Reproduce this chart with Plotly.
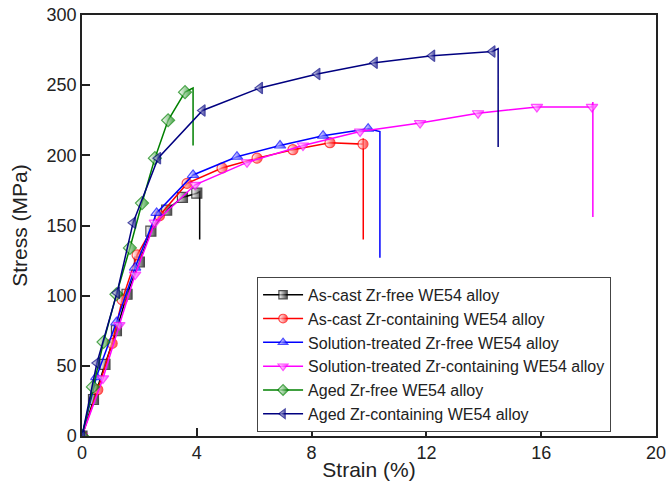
"""Stress-strain curves of WE54 alloys."""

import plotly.graph_objects as go

# marker points (strain %, stress MPa), then the end of the curve and the drop after fracture
names = [
    "As-cast Zr-free WE54 alloy",
    "As-cast Zr-containing WE54 alloy",
    "Solution-treated Zr-free WE54 alloy",
    "Solution-treated Zr-containing WE54 alloy",
    "Aged Zr-free WE54 alloy",
    "Aged Zr-containing WE54 alloy",
]
colors = ["#000000", "#ff0000", "#0000ff", "#ff00ff", "#008000", "#000080"]
symbols = ["square", "circle", "triangle-up", "triangle-down", "diamond", "triangle-left"]

ascast_free_strain = [0, 0.4, 0.8, 1.2, 1.57, 2.0, 2.4, 2.95, 3.5, 4.0, 4.1, 4.1]
ascast_free_stress = [0, 26, 51, 75, 101, 124, 146, 161, 170, 173, 174, 140]

ascast_zr_strain = [0, 0.55, 1.05, 1.4, 1.92, 2.7, 3.66, 4.88, 6.1, 7.35, 8.64, 9.79, 9.8, 9.8]
ascast_zr_stress = [0, 33, 66, 97, 129, 157, 180, 191, 198, 204, 209, 208, 212, 140]

sol_free_strain = [0, 0.5, 1.2, 1.85, 2.6, 3.87, 5.4, 6.9, 8.4, 9.97, 10.38, 10.38]
sol_free_stress = [0, 42, 81, 120, 159, 186, 199, 207, 214, 219, 217, 127]

sol_zr_strain = [0, 0.73, 1.3, 1.85, 2.54, 3.94, 5.75, 7.7, 9.69, 11.78, 13.8, 15.85, 17.77, 17.8, 17.8]
sol_zr_stress = [0, 41, 79, 115, 152, 179, 195, 207, 217, 223, 230, 234.5, 234.5, 238, 156]

aged_free_strain = [0, 0.38, 0.75, 1.2, 1.67, 2.09, 2.54, 3.0, 3.59, 3.87, 3.87]
aged_free_stress = [0, 35, 67, 101, 134, 166, 198, 225, 245, 248, 207]

aged_zr_strain = [0, 0.52, 1.22, 1.78, 2.65, 4.2, 6.2, 8.2, 10.2, 12.2, 14.3, 14.5, 14.5]
aged_zr_stress = [0, 52, 102, 152, 198, 232, 248, 258, 266, 271, 274, 276, 206]

strains = [ascast_free_strain, ascast_zr_strain, sol_free_strain,
           sol_zr_strain, aged_free_strain, aged_zr_strain]
stresses = [ascast_free_stress, ascast_zr_stress, sol_free_stress,
            sol_zr_stress, aged_free_stress, aged_zr_stress]

fig = go.Figure()

for name, color, symbol, x, y in zip(names, colors, symbols, strains, stresses):
    # no markers on the last two points (end of curve and fracture drop)
    sizes = [10] * (len(x) - 2) + [0, 0]
    fig.add_trace(go.Scatter(
        x=x, y=y, name=name, mode="lines+markers",
        line=dict(color=color, width=1.5),
        marker=dict(symbol=symbol, size=sizes, color="white",
                    gradient=dict(type="horizontal", color=color),
                    line=dict(color=color, width=1.2)),
    ))

font = "Liberation Sans, Arial, sans-serif"

fig.update_layout(
    width=666, height=491,
    margin=dict(l=82, r=10, t=15, b=55),
    paper_bgcolor="white", plot_bgcolor="white",
    font=dict(family=font, size=18, color="#222"),
    showlegend=True,
    legend=dict(
        x=0.305, y=0.378, xanchor="left", yanchor="top",
        bordercolor="#444", borderwidth=1, bgcolor="white",
        font=dict(size=16, color="#222"), itemwidth=40,
        tracegroupgap=0,
    ),
)

fig.update_xaxes(
    range=[0, 20], dtick=4, showgrid=False, zeroline=False, automargin=False,
    showline=True, linecolor="#222", linewidth=1.5, mirror=True,
    ticks="inside", ticklen=8, tickcolor="#222", tickwidth=1.5,
    ticklabeloverflow="allow",
    title=dict(text="Strain (%)", font=dict(size=21), standoff=0),
)
fig.update_yaxes(
    range=[0, 300], dtick=50, showgrid=False, zeroline=False, automargin=False,
    showline=True, linecolor="#222", linewidth=1.5, mirror=True,
    ticks="inside", ticklen=8, tickcolor="#222", tickwidth=1.5,
    ticklabeloverflow="allow",
    title=dict(text="Stress (MPa)", font=dict(size=21), standoff=13),
)

# drop the default page margin so the figure sits at the window's corner
fig.write_html("out.html", config={"displayModeBar": False},
               post_script="document.body.style.margin='0';")
